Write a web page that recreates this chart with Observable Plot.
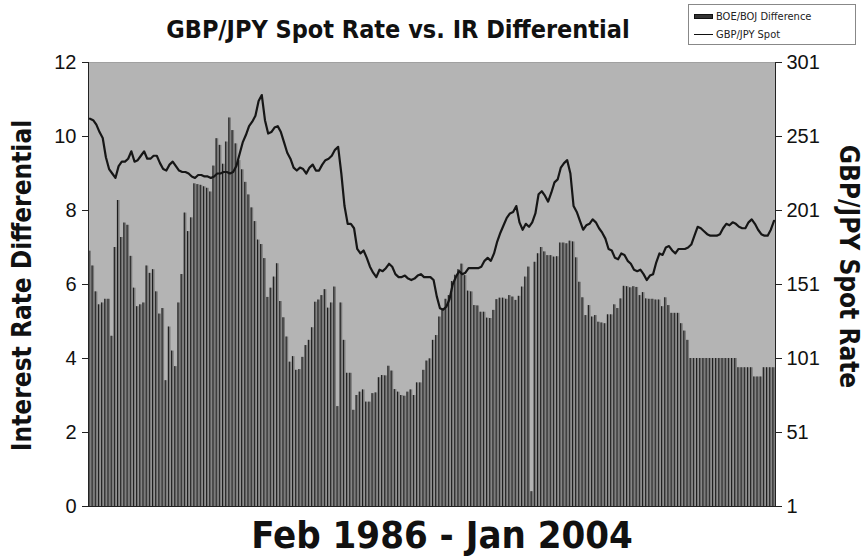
<!DOCTYPE html>
<html>
<head>
<meta charset="utf-8">
<script src="https://cdn.jsdelivr.net/npm/d3@7"></script>
<script src="https://cdn.jsdelivr.net/npm/@observablehq/plot@0.6"></script>
<style>
  html, body { margin: 0; padding: 0; background: #fff; }
  #wrap { position: relative; width: 867px; height: 560px; }
  #legend {
    position: absolute; left: 688px; top: 4px; width: 168px; height: 41px;
    border: 1px solid #888; background: #fff; box-sizing: border-box;
    font-family: "Liberation Sans Narrow", "DejaVu Sans Condensed", Arial, sans-serif;
    font-size: 11px; color: #222;
  }
  #legend .row { position: absolute; left: 5px; display: flex; align-items: center; }
  #legend .sw { width: 19px; margin-right: 3px; }
</style>
</head>
<body>
<div id="wrap">
  <div id="chart"></div>
  <div id="legend">
    <div class="row" style="top:5px"><div class="sw" style="height:5px;background:#333;border:1px solid #111;box-sizing:border-box"></div>BOE/BOJ Difference</div>
    <div class="row" style="top:23px"><div class="sw" style="height:1.5px;background:#111"></div>GBP/JPY Spot</div>
  </div>
</div>
<script>
// Period: monthly, Feb 1986 – Jan 2004
const startMonth = "1986-02";
const endMonth = "2004-01";

// BOE/BOJ interest rate difference (left axis), one per month
const irDiff = [
  6.9, 6.5, 5.8, 5.45, 5.5, 5.6, 5.6, 4.6, 7.0, 8.27, 7.27, 7.66, 7.6, 6.76, 5.9, 5.4, 5.45, 5.5, 6.5, 6.3,
  6.4, 5.8, 5.2, 5.35, 3.4, 4.85, 4.2, 3.78, 5.5, 6.27, 7.93, 7.43, 7.8, 8.72, 8.7, 8.68, 8.64, 8.6, 8.5, 9.2,
  9.94, 9.76, 9.25, 9.85, 10.5, 10.16, 9.8, 9.35, 9.1, 8.76, 8.42, 8.07, 7.7, 7.2, 7.08, 6.7, 5.65, 5.9, 6.2, 6.56,
  5.54, 5.1, 4.58, 3.9, 4.05, 3.68, 3.7, 4.03, 4.35, 4.49, 4.83, 5.52, 5.58, 5.7, 5.86, 5.36, 5.5, 5.93, 2.7, 5.5,
  4.49, 3.6, 3.6, 2.6, 3.0, 3.09, 3.15, 2.82, 2.82, 3.05, 3.07, 3.48, 3.54, 3.53, 3.79, 3.66, 3.16, 3.09, 3.0, 2.98,
  3.09, 3.15, 3.0, 3.34, 3.34, 3.68, 3.93, 3.99, 4.49, 4.62, 5.12, 5.35, 5.6, 5.7, 6.08, 6.25, 6.4, 6.55, 6.24, 5.82,
  5.8, 5.43, 5.42, 5.25, 5.25, 5.09, 5.08, 5.3, 5.59, 5.63, 5.63, 5.6, 5.7, 5.66, 5.57, 5.68, 5.93, 6.2, 6.47, 0.4,
  6.6, 6.83, 7.0, 6.88, 6.78, 6.78, 6.74, 6.75, 7.12, 7.12, 7.1, 7.17, 7.15, 6.72, 6.06, 5.64, 5.16, 5.43, 5.12, 5.16,
  4.98, 4.96, 4.94, 5.18, 5.18, 5.45, 5.35, 5.61, 5.95, 5.94, 5.91, 5.94, 5.92, 5.7, 5.78, 5.61, 5.6, 5.6, 5.58, 5.58,
  5.4, 5.64, 5.43, 5.22, 5.22, 5.22, 4.94, 4.74, 4.49, 4.0, 4.0, 4.0, 4.0, 4.0, 4.0, 4.0, 4.0, 4.0, 4.0, 4.0,
  4.0, 4.0, 4.0, 4.0, 3.75, 3.75, 3.75, 3.75, 3.75, 3.5, 3.5, 3.5, 3.75, 3.75, 3.75, 3.75
];

// GBP/JPY spot rate (right axis), one per month
const gbpJpy = [
  263, 262, 259, 254, 250, 237, 229, 226, 223, 231, 234, 234, 236, 241, 234, 235, 238, 241, 236, 236,
  238, 238, 233, 229, 228, 232, 234, 231, 228, 227, 227, 226, 224, 223, 225, 225, 224, 224, 223, 224,
  226, 226, 227, 227, 226, 227, 231, 239, 247, 252, 258, 261, 265, 275, 279, 262, 253, 254, 257, 258,
  254, 247, 240, 236, 230, 228, 230, 229, 226, 230, 232, 228, 228, 232, 235, 236, 238, 242, 244, 226,
  204, 192, 192, 189, 175, 172, 174, 169, 163, 159, 156, 161, 160, 162, 165, 163, 158, 156, 156, 157,
  155, 154, 155, 157, 158, 156, 156, 156, 154, 143, 135, 134, 136, 141, 151, 156, 160, 158, 159, 162,
  162, 162, 162, 163, 167, 169, 167, 172, 180, 186, 191, 196, 199, 200, 204, 193, 188, 192, 190, 193,
  199, 212, 214, 211, 207, 213, 220, 222, 230, 233, 235, 226, 204, 200, 194, 188, 191, 192, 195, 193,
  189, 186, 182, 175, 174, 169, 168, 172, 171, 167, 165, 161, 160, 161, 158, 154, 157, 158, 166, 172,
  171, 176, 177, 174, 172, 175, 175, 175, 176, 178, 184, 190, 189, 187, 185, 184, 184, 184, 185, 189,
  192, 191, 193, 192, 190, 189, 189, 193, 195, 192, 188, 185, 184, 184, 188, 194
];

// Axis tick labels
const leftTicks = [0, 2, 4, 6, 8, 10, 12];
const rightTicks = [1, 51, 101, 151, 201, 251, 301];

const months = d3.utcMonth.range(new Date(startMonth + "-01"), d3.utcMonth.offset(new Date(endMonth + "-01"), 1));
const data = months.map((m, i) => ({ i, month: m, ir: irDiff[i], spot: gbpJpy[i] }));

// map right-axis values onto the left-axis domain (1..301 -> 0..12)
const toLeft = v => (v - rightTicks[0]) / (rightTicks[rightTicks.length - 1] - rightTicks[0]) * 12;

const bold = "'Liberation Sans Narrow', 'DejaVu Sans Condensed', Arial, sans-serif";

const chart = Plot.plot({
  width: 867,
  height: 560,
  marginLeft: 88,
  marginRight: 92,
  marginTop: 62,
  marginBottom: 54,
  style: { fontFamily: "'Liberation Sans', Arial, sans-serif", fontSize: "20px", color: "#111", background: "#fff" },
  x: { type: "band", domain: data.map(d => d.i), paddingInner: 0.1, paddingOuter: 0.02, axis: null },
  y: { domain: [0, 12], axis: null },
  marks: [
    Plot.frame({ fill: "#b4b4b4", stroke: "#a0a0a0" }),
    Plot.barY(data, { x: "i", y: "ir", fill: "#7a7a7a" }),
    Plot.ruleX(data, { x: "i", y1: 0, y2: "ir", stroke: "#1c1c1c", strokeWidth: 1, dx: -1.1 }),
    Plot.line(data, { x: "i", y: d => toLeft(d.spot), stroke: "#161616", strokeWidth: 2.2, curve: "linear" }),
    Plot.axisY({ anchor: "left", label: null, ticks: leftTicks, tickSize: 6, tickPadding: 6, fontSize: 20, stroke: "#222" }),
    Plot.axisY({ anchor: "right", label: null, ticks: rightTicks.map(toLeft), tickFormat: (d, k) => rightTicks[k], tickSize: 6, tickPadding: 5, fontSize: 20, stroke: "#222" }),
    Plot.frame({ anchor: "left", stroke: "#222" }),
    Plot.frame({ anchor: "right", stroke: "#222" }),
    Plot.frame({ anchor: "bottom", stroke: "#222" }),
    Plot.text(["GBP/JPY Spot Rate vs. IR Differential"], { frameAnchor: "top", dx: -34, dy: -33, lineAnchor: "middle", fontSize: 25, fontWeight: "bold", fontFamily: bold, fill: "#111" }),
    Plot.text(["Feb 1986 - Jan 2004"], { frameAnchor: "bottom", dx: 10, dy: 29, lineAnchor: "middle", fontSize: 38, fontWeight: "bold", fontFamily: bold, fill: "#111" }),
    Plot.text(["Interest Rate Differential"], { frameAnchor: "left", textAnchor: "middle", lineAnchor: "middle", dx: -66, dy: 1, rotate: -90, fontSize: 26, fontWeight: "bold", fontFamily: bold, fill: "#111" }),
    Plot.text(["GBP/JPY Spot Rate"], { frameAnchor: "right", textAnchor: "middle", lineAnchor: "middle", dx: 73, dy: -18, rotate: 90, fontSize: 26, fontWeight: "bold", fontFamily: bold, fill: "#111" })
  ]
});
document.getElementById("chart").appendChild(chart);
</script>
</body>
</html>
